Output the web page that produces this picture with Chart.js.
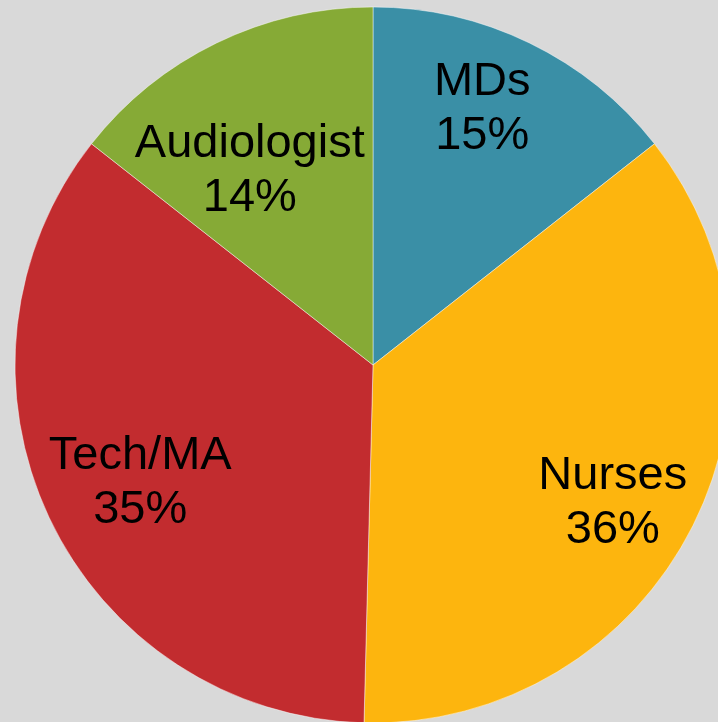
<!DOCTYPE html>
<html>
<head>
<meta charset="utf-8">
<script src="https://cdn.jsdelivr.net/npm/chart.js@4/dist/chart.umd.min.js"></script>
<style>
  html, body { margin: 0; padding: 0; background: #d9d9d9; overflow: hidden; width: 718px; height: 722px; }
  #wrap { position: absolute; left: 0; top: 0; }
</style>
</head>
<body>
<div id="wrap"><canvas id="pie" width="746" height="730"></canvas></div>
<script>
// chart data
var categories = ['MDs', 'Nurses', 'Tech/MA', 'Audiologist'];
var shares = [14.4, 36.0, 35.2, 14.4];
var shareLabels = ['15%', '36%', '35%', '14%'];

var sliceColors = ['#3a8fa6', '#fdb50e', '#c22c2f', '#86aa36'];

/**
 * draws the two line label inside each slice,
 * placed relative to the slice's own angle and radius
 */
var sliceLabels = {
    id: 'sliceLabels',
    afterDatasetsDraw: function(chart, args, opts) {
        var ctx = chart.ctx;
        var arcs = chart.getDatasetMeta(0).data;
        ctx.save();
        ctx.fillStyle = '#000';
        ctx.font = opts.size + 'px "Liberation Sans", Arial, sans-serif';
        ctx.textAlign = 'center';
        ctx.textBaseline = 'middle';
        for (var i = 0; i < arcs.length; i++) {
            var a = arcs[i];
            var mid = (a.startAngle + a.endAngle) / 2 + opts.shift[i] * Math.PI / 180;
            var r = a.outerRadius * opts.dist[i];
            var x = a.x + Math.cos(mid) * r;
            var y = a.y + Math.sin(mid) * r;
            ctx.fillText(categories[i], x, y - opts.lineGap / 2);
            ctx.fillText(shareLabels[i], x, y + opts.lineGap / 2);
        }
        ctx.restore();
    }
};

new Chart(document.getElementById('pie').getContext('2d'), {
    type: 'pie',
    data: {
        labels: categories,
        datasets: [{
            data: shares,
            backgroundColor: sliceColors,
            borderColor: 'rgba(255,255,255,0.45)',
            borderWidth: 1,
            radius: 358
        }]
    },
    options: {
        responsive: false,
        animation: false,
        devicePixelRatio: 1,
        layout: { padding: 0 },
        plugins: {
            legend: { display: false },
            tooltip: { enabled: false },
            sliceLabels: {
                size: 47,
                lineGap: 54,
                dist: [0.777, 0.773, 0.729, 0.642],
                shift: [-2.8, 3.3, -1.7, -6.5]
            }
        }
    },
    plugins: [sliceLabels]
});
</script>
</body>
</html>
